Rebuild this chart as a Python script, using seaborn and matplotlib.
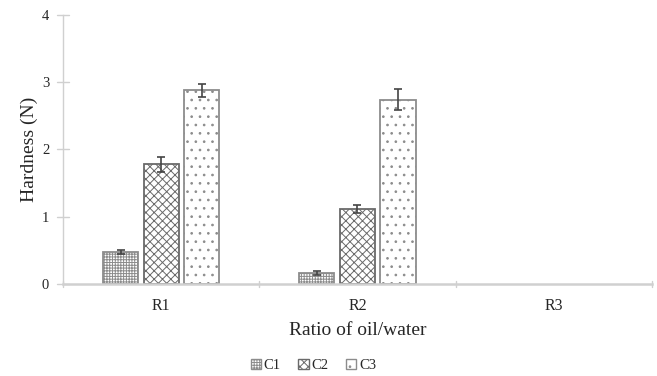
import matplotlib
matplotlib.use("Agg")
import matplotlib.pyplot as plt
import seaborn as sns
import pandas as pd
import numpy as np
from matplotlib.patches import Patch

categories = ["R1", "R2", "R3"]
series = ["C1", "C2", "C3"]
c1_values = [0.48, 0.16, np.nan]
c2_values = [1.78, 1.12, np.nan]
c3_values = [2.88, 2.74, np.nan]
c1_errors = [0.03, 0.03, 0.0]
c2_errors = [0.11, 0.06, 0.0]
c3_errors = [0.10, 0.16, 0.0]

values = {"C1": c1_values, "C2": c2_values, "C3": c3_values}
errors = {"C1": c1_errors, "C2": c2_errors, "C3": c3_errors}

rows = []
for s in series:
    for i, c in enumerate(categories):
        rows.append({"ratio": c, "series": s, "hardness": values[s][i]})
df = pd.DataFrame(rows)

sns.set_style("white")
plt.rcParams["font.family"] = ["Liberation Serif", "DejaVu Serif"]
plt.rcParams["hatch.linewidth"] = 0.7

fig = plt.figure(figsize=(6.57, 3.76), dpi=100)
ax = fig.add_axes([0.096, 0.245, 0.896, 0.715])

sns.barplot(data=df, x="ratio", y="hardness", hue="series", order=categories,
            hue_order=series, width=0.62, gap=0.13, errorbar=None,
            palette=["white", "white", "white"], ax=ax, legend=False)

hatches = {"C1": "++++++", "C2": "xxxx", "C3": ".."}
edgecols = {"C1": "#8c8c8c", "C2": "#6a6a6a", "C3": "#8c8c8c"}
for s, cont in zip(series, ax.containers):
    for bar in cont:
        bar.set_hatch(hatches[s])
        bar.set_edgecolor(edgecols[s])
        bar.set_linewidth(1.3)
        h = bar.get_height()
        if np.isnan(h):
            continue
        xc = bar.get_x() + bar.get_width() / 2
        idx = int(round(xc))
        err = errors[s][idx]
        ax.errorbar(xc, h, yerr=err, color="#444444", capsize=2.8, elinewidth=1.2,
                    capthick=1.2, fmt="none", zorder=5)

ax.set_ylim(0, 4)
ax.set_xlim(-0.5, 2.5)
ax.set_yticks([0, 1, 2, 3, 4])
ax.set_xticks([0, 1, 2])
ax.set_xticklabels(categories, fontsize=11.5)
ax.tick_params(axis="y", labelsize=10.5, length=0, pad=10)
ax.tick_params(axis="x", length=0, pad=10)

for sp in ["top", "right"]:
    ax.spines[sp].set_visible(False)
ax.spines["left"].set_color("#d0d0d0")
ax.spines["left"].set_linewidth(1.0)
ax.spines["bottom"].set_color("#d0d0d0")
ax.spines["bottom"].set_linewidth(1.8)

for yv in [0, 1, 2, 3, 4]:
    ax.plot([-0.5 - 0.03, -0.5 + 0.03], [yv, yv], color="#d0d0d0", lw=1.0,
            clip_on=False, zorder=1)
for xv in [-0.5, 0.5, 1.5, 2.5]:
    ax.plot([xv, xv], [-0.05, 0.05], color="#d0d0d0", lw=1.0, clip_on=False, zorder=1)

ax.set_ylabel("Hardness (N)", fontsize=14, labelpad=3)
ax.set_xlabel("Ratio of oil/water", fontsize=14, labelpad=6)

handles = [Patch(facecolor="white", edgecolor=edgecols[s], hatch=hatches[s], label=s)
           for s in series]
fig.legend(handles=handles, loc="center", bbox_to_anchor=(0.477, 0.028), ncol=3,
           frameon=False, fontsize=10.5, handlelength=0.7, handleheight=0.7,
           handletextpad=0.2, columnspacing=1.2)

fig.savefig("out.png", dpi=100)
